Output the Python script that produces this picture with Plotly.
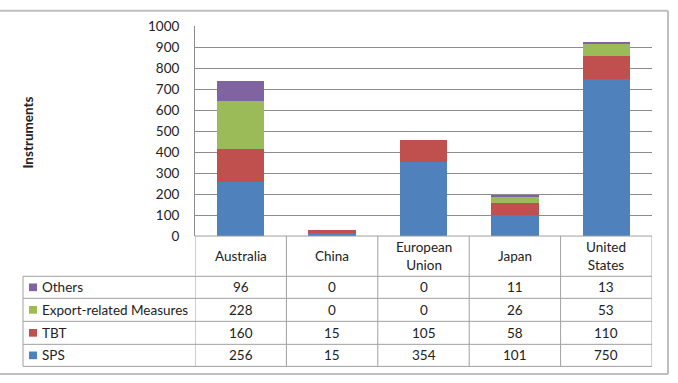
import plotly.graph_objects as go

categories = ["Australia", "China", "European Union", "Japan", "United States"]
header_labels = ["Australia", "China", "European<br>Union", "Japan", "United<br>States"]
series_names = ["SPS", "TBT", "Export-related Measures", "Others"]
sps = [256, 15, 354, 101, 750]
tbt = [160, 15, 105, 58, 110]
export_rel = [228, 0, 0, 26, 53]
others = [96, 0, 0, 11, 13]
colors = ["#4F81BD", "#C0504D", "#9BBB59", "#8064A2"]
y_ticks = list(range(0, 1001, 100))

W, H = 678, 383
FONT = "Lato"
FS = 13.5

def px(x):
    return x / W

def py(y):
    return 1 - y / H

fig = go.Figure()
for name, vals, col in zip(series_names, [sps, tbt, export_rel, others], colors):
    fig.add_trace(go.Bar(x=list(range(len(categories))), y=vals, name=name,
                         marker=dict(color=col, line=dict(width=0))))

plot_top, plot_bot = 19, 238
fig.update_layout(
    width=W, height=H, barmode="stack", bargap=0.48,
    margin=dict(l=0, r=0, t=0, b=0),
    paper_bgcolor="white", plot_bgcolor="white",
    showlegend=False,
    font=dict(family=FONT, size=FS, color="#222"),
    xaxis=dict(domain=[px(195), px(652)], range=[-0.5, 4.5], showticklabels=False,
               showgrid=False, zeroline=False, fixedrange=True),
    yaxis=dict(domain=[py(plot_bot), py(plot_top)], range=[0, 1000], tickvals=y_ticks,
               showgrid=True, gridcolor="#8C8C8C", gridwidth=1, zeroline=False,
               showline=True, linecolor="#8C8C8C", ticks="", ticklabelstandoff=12,
               tickfont=dict(family=FONT, size=FS, color="#222")),
)

shapes = []
LC = "#A0A0A0"
def line(x0, y0, x1, y1, xref="paper", color=LC, width=1):
    shapes.append(dict(type="line", xref=xref, yref="paper", x0=x0, y0=y0, x1=x1, y1=y1,
                       line=dict(color=color, width=width)))

row_y = [280, 303, 327, 351, 374]
line(px(195), py(238), px(652), py(238))
for y in row_y:
    line(px(23), py(y), px(652), py(y))
line(px(23), py(280), px(23), py(374))
n = len(categories)
for i in range(n + 1):
    line(i - 0.5, py(238), i - 0.5, py(374), xref="x")

line(0, py(3), px(668), py(3), color="#BFBFBF", width=2)
line(px(668), py(3), px(668), py(382), color="#BFBFBF", width=2)
line(0, py(382), px(668), py(382), color="#BFBFBF", width=2)

annotations = []
def ann(x, y, text, xref="paper", xanchor="center", **kw):
    annotations.append(dict(x=x, y=y, xref=xref, yref="paper", text=text, showarrow=False,
                            xanchor=xanchor, yanchor="middle",
                            font=dict(family=FONT, size=FS, color="#222"), **kw))

for i, lab in enumerate(header_labels):
    ann(i, py(259), lab, xref="x")

rows = list(zip(series_names, [sps, tbt, export_rel, others], colors))[::-1]
for r, (name, vals, col) in enumerate(rows):
    yc = (row_y[r] + row_y[r + 1]) / 2
    shapes.append(dict(type="rect", xref="paper", yref="paper",
                       x0=px(29), x1=px(37), y0=py(yc + 4), y1=py(yc - 4),
                       fillcolor=col, line=dict(width=0)))
    ann(px(40), py(yc), name, xanchor="left")
    for i, v in enumerate(vals):
        ann(i, py(yc), str(v), xref="x")

ann(px(28), py(130), "<b>Instruments</b>", textangle=-90)

fig.update_layout(shapes=shapes, annotations=annotations)
fig.write_html("out.html")
